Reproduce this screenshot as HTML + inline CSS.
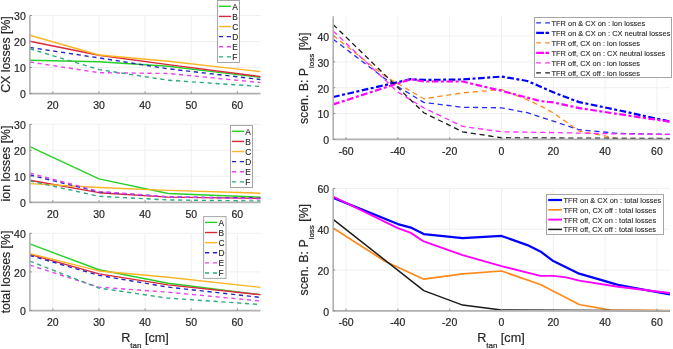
<!DOCTYPE html>
<html><head><meta charset="utf-8"><style>
html,body{margin:0;padding:0;background:#fff;width:673px;height:349px;overflow:hidden}
svg{display:block;will-change:transform;} text{stroke:#262626;stroke-width:0.2px;paint-order:stroke} .lg{stroke-width:0.12px} .lg2{stroke-width:0.1px} svg{font-family:"Liberation Sans", sans-serif}
</style></head><body>
<svg width="673" height="349" viewBox="0 0 673 349" font-family='"Liberation Sans", sans-serif'>
<rect width="673" height="349" fill="#fff"/>
<line x1="52.86" y1="15.5" x2="52.86" y2="93.5" stroke="#f0f0f0" stroke-width="1"/>
<line x1="98.98" y1="15.5" x2="98.98" y2="93.5" stroke="#f0f0f0" stroke-width="1"/>
<line x1="145.1" y1="15.5" x2="145.1" y2="93.5" stroke="#f0f0f0" stroke-width="1"/>
<line x1="191.22" y1="15.5" x2="191.22" y2="93.5" stroke="#f0f0f0" stroke-width="1"/>
<line x1="237.34" y1="15.5" x2="237.34" y2="93.5" stroke="#f0f0f0" stroke-width="1"/>
<line x1="29.8" y1="93.5" x2="260.4" y2="93.5" stroke="#f0f0f0" stroke-width="1"/>
<line x1="29.8" y1="67.5" x2="260.4" y2="67.5" stroke="#f0f0f0" stroke-width="1"/>
<line x1="29.8" y1="41.5" x2="260.4" y2="41.5" stroke="#f0f0f0" stroke-width="1"/>
<line x1="29.8" y1="15.5" x2="260.4" y2="15.5" stroke="#f0f0f0" stroke-width="1"/>
<clipPath id="cl0"><rect x="29.8" y="12.5" width="233.6" height="84"/></clipPath>
<g clip-path="url(#cl0)">
<polyline points="29.8,60.22 98.98,61.78 168.16,66.2 260.4,77.38" fill="none" stroke="#26d026" stroke-width="1.4" stroke-linejoin="round" stroke-linecap="butt"/>
<polyline points="29.8,41.24 98.98,55.28 168.16,64.64 260.4,76.6" fill="none" stroke="#d8283a" stroke-width="1.4" stroke-linejoin="round" stroke-linecap="butt"/>
<polyline points="29.8,35.26 98.98,55.02 168.16,61.26 260.4,71.66" fill="none" stroke="#fbb424" stroke-width="1.4" stroke-linejoin="round" stroke-linecap="butt"/>
<polyline points="29.8,47.48 98.98,57.88 168.16,68.8 260.4,79.46" fill="none" stroke="#2626c8" stroke-width="1.4" stroke-dasharray="4.2 3.7" stroke-linejoin="round" stroke-linecap="butt"/>
<polyline points="29.8,62.04 98.98,72.7 168.16,73.48 260.4,82.58" fill="none" stroke="#e545f0" stroke-width="1.4" stroke-dasharray="4.2 3.7" stroke-linejoin="round" stroke-linecap="butt"/>
<polyline points="29.8,48.78 98.98,69.58 168.16,80.24 260.4,86.48" fill="none" stroke="#2ea882" stroke-width="1.4" stroke-dasharray="4.2 3.7" stroke-linejoin="round" stroke-linecap="butt"/>
</g>
<path d="M29.9 15.5V93.6H260.4" fill="none" stroke="#b0b0b0" stroke-width="1.6"/>
<line x1="52.86" y1="93.5" x2="52.86" y2="91.5" stroke="#8c8c8c" stroke-width="1"/>
<line x1="98.98" y1="93.5" x2="98.98" y2="91.5" stroke="#8c8c8c" stroke-width="1"/>
<line x1="145.1" y1="93.5" x2="145.1" y2="91.5" stroke="#8c8c8c" stroke-width="1"/>
<line x1="191.22" y1="93.5" x2="191.22" y2="91.5" stroke="#8c8c8c" stroke-width="1"/>
<line x1="237.34" y1="93.5" x2="237.34" y2="91.5" stroke="#8c8c8c" stroke-width="1"/>
<line x1="29.8" y1="93.5" x2="31.8" y2="93.5" stroke="#8c8c8c" stroke-width="1"/>
<line x1="29.8" y1="67.5" x2="31.8" y2="67.5" stroke="#8c8c8c" stroke-width="1"/>
<line x1="29.8" y1="41.5" x2="31.8" y2="41.5" stroke="#8c8c8c" stroke-width="1"/>
<line x1="29.8" y1="15.5" x2="31.8" y2="15.5" stroke="#8c8c8c" stroke-width="1"/>
<text x="52.86" y="109.1" font-size="10.5" text-anchor="middle" fill="#262626">20</text>
<text x="98.98" y="109.1" font-size="10.5" text-anchor="middle" fill="#262626">30</text>
<text x="145.1" y="109.1" font-size="10.5" text-anchor="middle" fill="#262626">40</text>
<text x="191.22" y="109.1" font-size="10.5" text-anchor="middle" fill="#262626">50</text>
<text x="237.34" y="109.1" font-size="10.5" text-anchor="middle" fill="#262626">60</text>
<text x="25.8" y="98.3" font-size="10.5" text-anchor="end" fill="#262626">0</text>
<text x="25.8" y="72.3" font-size="10.5" text-anchor="end" fill="#262626">10</text>
<text x="25.8" y="46.3" font-size="10.5" text-anchor="end" fill="#262626">20</text>
<text x="25.8" y="20.3" font-size="10.5" text-anchor="end" fill="#262626">30</text>
<line x1="52.86" y1="124.3" x2="52.86" y2="202.3" stroke="#f0f0f0" stroke-width="1"/>
<line x1="98.98" y1="124.3" x2="98.98" y2="202.3" stroke="#f0f0f0" stroke-width="1"/>
<line x1="145.1" y1="124.3" x2="145.1" y2="202.3" stroke="#f0f0f0" stroke-width="1"/>
<line x1="191.22" y1="124.3" x2="191.22" y2="202.3" stroke="#f0f0f0" stroke-width="1"/>
<line x1="237.34" y1="124.3" x2="237.34" y2="202.3" stroke="#f0f0f0" stroke-width="1"/>
<line x1="29.8" y1="202.3" x2="260.4" y2="202.3" stroke="#f0f0f0" stroke-width="1"/>
<line x1="29.8" y1="176.3" x2="260.4" y2="176.3" stroke="#f0f0f0" stroke-width="1"/>
<line x1="29.8" y1="150.3" x2="260.4" y2="150.3" stroke="#f0f0f0" stroke-width="1"/>
<line x1="29.8" y1="124.3" x2="260.4" y2="124.3" stroke="#f0f0f0" stroke-width="1"/>
<clipPath id="cl1"><rect x="29.8" y="121.3" width="233.6" height="84"/></clipPath>
<g clip-path="url(#cl1)">
<polyline points="29.8,146.66 98.98,178.9 168.16,193.46 260.4,197.1" fill="none" stroke="#26d026" stroke-width="1.4" stroke-linejoin="round" stroke-linecap="butt"/>
<polyline points="29.8,180.2 98.98,192.68 168.16,197.1 260.4,198.4" fill="none" stroke="#d8283a" stroke-width="1.4" stroke-linejoin="round" stroke-linecap="butt"/>
<polyline points="29.8,183.58 98.98,187.48 168.16,190.34 260.4,193.2" fill="none" stroke="#fbb424" stroke-width="1.4" stroke-linejoin="round" stroke-linecap="butt"/>
<polyline points="29.8,175 98.98,191.9 168.16,196.84 260.4,198.14" fill="none" stroke="#2626c8" stroke-width="1.4" stroke-dasharray="4.2 3.7" stroke-linejoin="round" stroke-linecap="butt"/>
<polyline points="29.8,173.18 98.98,191.38 168.16,196.84 260.4,198.92" fill="none" stroke="#e545f0" stroke-width="1.4" stroke-dasharray="4.2 3.7" stroke-linejoin="round" stroke-linecap="butt"/>
<polyline points="29.8,180.98 98.98,196.32 168.16,199.96 260.4,201" fill="none" stroke="#2ea882" stroke-width="1.4" stroke-dasharray="4.2 3.7" stroke-linejoin="round" stroke-linecap="butt"/>
</g>
<path d="M29.9 124.3V202.4H260.4" fill="none" stroke="#b0b0b0" stroke-width="1.6"/>
<line x1="52.86" y1="202.3" x2="52.86" y2="200.3" stroke="#8c8c8c" stroke-width="1"/>
<line x1="98.98" y1="202.3" x2="98.98" y2="200.3" stroke="#8c8c8c" stroke-width="1"/>
<line x1="145.1" y1="202.3" x2="145.1" y2="200.3" stroke="#8c8c8c" stroke-width="1"/>
<line x1="191.22" y1="202.3" x2="191.22" y2="200.3" stroke="#8c8c8c" stroke-width="1"/>
<line x1="237.34" y1="202.3" x2="237.34" y2="200.3" stroke="#8c8c8c" stroke-width="1"/>
<line x1="29.8" y1="202.3" x2="31.8" y2="202.3" stroke="#8c8c8c" stroke-width="1"/>
<line x1="29.8" y1="176.3" x2="31.8" y2="176.3" stroke="#8c8c8c" stroke-width="1"/>
<line x1="29.8" y1="150.3" x2="31.8" y2="150.3" stroke="#8c8c8c" stroke-width="1"/>
<line x1="29.8" y1="124.3" x2="31.8" y2="124.3" stroke="#8c8c8c" stroke-width="1"/>
<text x="52.86" y="217.9" font-size="10.5" text-anchor="middle" fill="#262626">20</text>
<text x="98.98" y="217.9" font-size="10.5" text-anchor="middle" fill="#262626">30</text>
<text x="145.1" y="217.9" font-size="10.5" text-anchor="middle" fill="#262626">40</text>
<text x="191.22" y="217.9" font-size="10.5" text-anchor="middle" fill="#262626">50</text>
<text x="237.34" y="217.9" font-size="10.5" text-anchor="middle" fill="#262626">60</text>
<text x="25.8" y="207.1" font-size="10.5" text-anchor="end" fill="#262626">0</text>
<text x="25.8" y="181.1" font-size="10.5" text-anchor="end" fill="#262626">10</text>
<text x="25.8" y="155.1" font-size="10.5" text-anchor="end" fill="#262626">20</text>
<text x="25.8" y="129.1" font-size="10.5" text-anchor="end" fill="#262626">30</text>
<line x1="52.86" y1="233.3" x2="52.86" y2="310.5" stroke="#f0f0f0" stroke-width="1"/>
<line x1="98.98" y1="233.3" x2="98.98" y2="310.5" stroke="#f0f0f0" stroke-width="1"/>
<line x1="145.1" y1="233.3" x2="145.1" y2="310.5" stroke="#f0f0f0" stroke-width="1"/>
<line x1="191.22" y1="233.3" x2="191.22" y2="310.5" stroke="#f0f0f0" stroke-width="1"/>
<line x1="237.34" y1="233.3" x2="237.34" y2="310.5" stroke="#f0f0f0" stroke-width="1"/>
<line x1="29.8" y1="310.5" x2="260.4" y2="310.5" stroke="#f0f0f0" stroke-width="1"/>
<line x1="29.8" y1="271.9" x2="260.4" y2="271.9" stroke="#f0f0f0" stroke-width="1"/>
<line x1="29.8" y1="233.3" x2="260.4" y2="233.3" stroke="#f0f0f0" stroke-width="1"/>
<clipPath id="cl2"><rect x="29.8" y="230.3" width="233.6" height="83.2"/></clipPath>
<g clip-path="url(#cl2)">
<polyline points="29.8,243.92 98.98,269.78 168.16,283.29 260.4,294.67" fill="none" stroke="#26d026" stroke-width="1.4" stroke-linejoin="round" stroke-linecap="butt"/>
<polyline points="29.8,254.34 98.98,273.83 168.16,284.83 260.4,294.67" fill="none" stroke="#d8283a" stroke-width="1.4" stroke-linejoin="round" stroke-linecap="butt"/>
<polyline points="29.8,253.56 98.98,270.94 168.16,277.3 260.4,287.34" fill="none" stroke="#fbb424" stroke-width="1.4" stroke-linejoin="round" stroke-linecap="butt"/>
<polyline points="29.8,255.5 98.98,275.37 168.16,287.15 260.4,297.38" fill="none" stroke="#2626c8" stroke-width="1.4" stroke-dasharray="4.2 3.7" stroke-linejoin="round" stroke-linecap="butt"/>
<polyline points="29.8,265.14 98.98,287.15 168.16,292.17 260.4,301.04" fill="none" stroke="#e545f0" stroke-width="1.4" stroke-dasharray="4.2 3.7" stroke-linejoin="round" stroke-linecap="butt"/>
<polyline points="29.8,261.09 98.98,288.11 168.16,298.15 260.4,304.52" fill="none" stroke="#2ea882" stroke-width="1.4" stroke-dasharray="4.2 3.7" stroke-linejoin="round" stroke-linecap="butt"/>
</g>
<path d="M29.9 233.3V310.6H260.4" fill="none" stroke="#b0b0b0" stroke-width="1.6"/>
<line x1="52.86" y1="310.5" x2="52.86" y2="308.5" stroke="#8c8c8c" stroke-width="1"/>
<line x1="98.98" y1="310.5" x2="98.98" y2="308.5" stroke="#8c8c8c" stroke-width="1"/>
<line x1="145.1" y1="310.5" x2="145.1" y2="308.5" stroke="#8c8c8c" stroke-width="1"/>
<line x1="191.22" y1="310.5" x2="191.22" y2="308.5" stroke="#8c8c8c" stroke-width="1"/>
<line x1="237.34" y1="310.5" x2="237.34" y2="308.5" stroke="#8c8c8c" stroke-width="1"/>
<line x1="29.8" y1="310.5" x2="31.8" y2="310.5" stroke="#8c8c8c" stroke-width="1"/>
<line x1="29.8" y1="271.9" x2="31.8" y2="271.9" stroke="#8c8c8c" stroke-width="1"/>
<line x1="29.8" y1="233.3" x2="31.8" y2="233.3" stroke="#8c8c8c" stroke-width="1"/>
<text x="52.86" y="326.1" font-size="10.5" text-anchor="middle" fill="#262626">20</text>
<text x="98.98" y="326.1" font-size="10.5" text-anchor="middle" fill="#262626">30</text>
<text x="145.1" y="326.1" font-size="10.5" text-anchor="middle" fill="#262626">40</text>
<text x="191.22" y="326.1" font-size="10.5" text-anchor="middle" fill="#262626">50</text>
<text x="237.34" y="326.1" font-size="10.5" text-anchor="middle" fill="#262626">60</text>
<text x="25.8" y="315.3" font-size="10.5" text-anchor="end" fill="#262626">0</text>
<text x="25.8" y="276.7" font-size="10.5" text-anchor="end" fill="#262626">20</text>
<text x="25.8" y="238.1" font-size="10.5" text-anchor="end" fill="#262626">40</text>
<rect x="217.5" y="0.5" width="22" height="62" fill="#fff" stroke="#a6a6a6" stroke-width="1"/>
<line x1="218.9" y1="6.3" x2="231.1" y2="6.3" stroke="#26d026" stroke-width="1.4"/>
<text x="232.3" y="9.55" font-size="8.4" fill="#262626" class="lg">A</text>
<line x1="218.9" y1="16.42" x2="231.1" y2="16.42" stroke="#d8283a" stroke-width="1.4"/>
<text x="232.3" y="19.67" font-size="8.4" fill="#262626" class="lg">B</text>
<line x1="218.9" y1="26.54" x2="231.1" y2="26.54" stroke="#fbb424" stroke-width="1.4"/>
<text x="232.3" y="29.79" font-size="8.4" fill="#262626" class="lg">C</text>
<line x1="218.9" y1="36.66" x2="231.1" y2="36.66" stroke="#2626c8" stroke-width="1.4" stroke-dasharray="4.2 3.7"/>
<text x="232.3" y="39.91" font-size="8.4" fill="#262626" class="lg">D</text>
<line x1="218.9" y1="46.78" x2="231.1" y2="46.78" stroke="#e545f0" stroke-width="1.4" stroke-dasharray="4.2 3.7"/>
<text x="232.3" y="50.03" font-size="8.4" fill="#262626" class="lg">E</text>
<line x1="218.9" y1="56.9" x2="231.1" y2="56.9" stroke="#2ea882" stroke-width="1.4" stroke-dasharray="4.2 3.7"/>
<text x="232.3" y="60.15" font-size="8.4" fill="#262626" class="lg">F</text>
<rect x="230.5" y="125.5" width="22" height="62" fill="#fff" stroke="#a6a6a6" stroke-width="1"/>
<line x1="231.9" y1="131.3" x2="244.1" y2="131.3" stroke="#26d026" stroke-width="1.4"/>
<text x="245.3" y="134.55" font-size="8.4" fill="#262626" class="lg">A</text>
<line x1="231.9" y1="141.42" x2="244.1" y2="141.42" stroke="#d8283a" stroke-width="1.4"/>
<text x="245.3" y="144.67" font-size="8.4" fill="#262626" class="lg">B</text>
<line x1="231.9" y1="151.54" x2="244.1" y2="151.54" stroke="#fbb424" stroke-width="1.4"/>
<text x="245.3" y="154.79" font-size="8.4" fill="#262626" class="lg">C</text>
<line x1="231.9" y1="161.66" x2="244.1" y2="161.66" stroke="#2626c8" stroke-width="1.4" stroke-dasharray="4.2 3.7"/>
<text x="245.3" y="164.91" font-size="8.4" fill="#262626" class="lg">D</text>
<line x1="231.9" y1="171.78" x2="244.1" y2="171.78" stroke="#e545f0" stroke-width="1.4" stroke-dasharray="4.2 3.7"/>
<text x="245.3" y="175.03" font-size="8.4" fill="#262626" class="lg">E</text>
<line x1="231.9" y1="181.9" x2="244.1" y2="181.9" stroke="#2ea882" stroke-width="1.4" stroke-dasharray="4.2 3.7"/>
<text x="245.3" y="185.15" font-size="8.4" fill="#262626" class="lg">F</text>
<rect x="203.6" y="216.6" width="22.4" height="61.8" fill="#fff" stroke="#a6a6a6" stroke-width="1"/>
<line x1="205" y1="222.4" x2="217.2" y2="222.4" stroke="#26d026" stroke-width="1.4"/>
<text x="218.4" y="225.65" font-size="8.4" fill="#262626" class="lg">A</text>
<line x1="205" y1="232.52" x2="217.2" y2="232.52" stroke="#d8283a" stroke-width="1.4"/>
<text x="218.4" y="235.77" font-size="8.4" fill="#262626" class="lg">B</text>
<line x1="205" y1="242.64" x2="217.2" y2="242.64" stroke="#fbb424" stroke-width="1.4"/>
<text x="218.4" y="245.89" font-size="8.4" fill="#262626" class="lg">C</text>
<line x1="205" y1="252.76" x2="217.2" y2="252.76" stroke="#2626c8" stroke-width="1.4" stroke-dasharray="4.2 3.7"/>
<text x="218.4" y="256.01" font-size="8.4" fill="#262626" class="lg">D</text>
<line x1="205" y1="262.88" x2="217.2" y2="262.88" stroke="#e545f0" stroke-width="1.4" stroke-dasharray="4.2 3.7"/>
<text x="218.4" y="266.13" font-size="8.4" fill="#262626" class="lg">E</text>
<line x1="205" y1="273" x2="217.2" y2="273" stroke="#2ea882" stroke-width="1.4" stroke-dasharray="4.2 3.7"/>
<text x="218.4" y="276.25" font-size="8.4" fill="#262626" class="lg">F</text>
<text transform="translate(9.6,54.5) rotate(-90)" font-size="12.3" text-anchor="middle" fill="#262626">CX losses [%]</text>
<text transform="translate(9.6,163.5) rotate(-90)" font-size="12.3" text-anchor="middle" fill="#262626">ion losses [%]</text>
<text transform="translate(9.6,272) rotate(-90)" font-size="12.3" text-anchor="middle" fill="#262626">total losses [%]</text>
<text x="145" y="342.1" font-size="12.6" text-anchor="middle" fill="#262626">R<tspan font-size="8" dy="5.7">tan</tspan><tspan dy="-5.7"> [cm]</tspan></text>
<line x1="346.05" y1="16.2" x2="346.05" y2="139.3" stroke="#f0f0f0" stroke-width="1"/>
<line x1="397.87" y1="16.2" x2="397.87" y2="139.3" stroke="#f0f0f0" stroke-width="1"/>
<line x1="449.68" y1="16.2" x2="449.68" y2="139.3" stroke="#f0f0f0" stroke-width="1"/>
<line x1="501.5" y1="16.2" x2="501.5" y2="139.3" stroke="#f0f0f0" stroke-width="1"/>
<line x1="553.32" y1="16.2" x2="553.32" y2="139.3" stroke="#f0f0f0" stroke-width="1"/>
<line x1="605.13" y1="16.2" x2="605.13" y2="139.3" stroke="#f0f0f0" stroke-width="1"/>
<line x1="656.95" y1="16.2" x2="656.95" y2="139.3" stroke="#f0f0f0" stroke-width="1"/>
<line x1="333.1" y1="139.3" x2="669.9" y2="139.3" stroke="#f0f0f0" stroke-width="1"/>
<line x1="333.1" y1="113.5" x2="669.9" y2="113.5" stroke="#f0f0f0" stroke-width="1"/>
<line x1="333.1" y1="87.7" x2="669.9" y2="87.7" stroke="#f0f0f0" stroke-width="1"/>
<line x1="333.1" y1="61.9" x2="669.9" y2="61.9" stroke="#f0f0f0" stroke-width="1"/>
<line x1="333.1" y1="36.1" x2="669.9" y2="36.1" stroke="#f0f0f0" stroke-width="1"/>
<clipPath id="cr1"><rect x="333.1" y="13.2" width="339.8" height="129.1"/></clipPath>
<g clip-path="url(#cr1)">
<polyline points="333.1,39.2 384.92,78.67 423.78,102.41 462.64,107.31 501.5,107.82 527.41,112.73 553.32,121.24 579.22,129.75 618.08,133.37 669.9,134.4" fill="none" stroke="#2a2aff" stroke-width="1.3" stroke-dasharray="5.2 3.7" stroke-linejoin="round" stroke-linecap="butt"/>
<polyline points="333.1,96.99 410.82,79.19 423.78,79.96 462.64,79.44 501.5,76.61 527.41,80.99 553.32,92.34 579.22,102.15 618.08,110.15 669.9,121.5" fill="none" stroke="#0000ff" stroke-width="2.2" stroke-dasharray="6.7 2.5 3 2.5" stroke-linejoin="round" stroke-linecap="butt"/>
<polyline points="333.1,35.58 384.92,76.09 423.78,98.79 462.64,92.86 501.5,89.51 527.41,99.83 540.36,105.76 553.32,112.98 579.22,131.04 599.95,134.91 615.49,138.27 669.9,138.78" fill="none" stroke="#ff8a1a" stroke-width="1.3" stroke-dasharray="5.2 3.7" stroke-linejoin="round" stroke-linecap="butt"/>
<polyline points="333.1,104.47 410.82,79.19 423.78,81.51 462.64,81.51 501.5,90.8 540.36,101.12 553.32,102.41 579.22,108.08 618.08,114.02 669.9,121.76" fill="none" stroke="#ff00ff" stroke-width="2.2" stroke-dasharray="6.7 2.5 3 2.5" stroke-linejoin="round" stroke-linecap="butt"/>
<polyline points="333.1,30.94 397.87,92.09 423.78,107.82 462.64,126.4 501.5,131.82 540.36,132.33 618.08,133.88 669.9,134.4" fill="none" stroke="#ff2aff" stroke-width="1.3" stroke-dasharray="5.2 3.7" stroke-linejoin="round" stroke-linecap="butt"/>
<polyline points="333.1,24.49 423.78,112.73 462.64,131.82 501.5,137.75 669.9,138.53" fill="none" stroke="#1a1a1a" stroke-width="1.3" stroke-dasharray="5.2 3.7" stroke-linejoin="round" stroke-linecap="butt"/>
</g>
<path d="M333.2 16.2V139.4H669.9" fill="none" stroke="#b0b0b0" stroke-width="1.6"/>
<line x1="346.05" y1="139.3" x2="346.05" y2="137.3" stroke="#8c8c8c" stroke-width="1"/>
<line x1="397.87" y1="139.3" x2="397.87" y2="137.3" stroke="#8c8c8c" stroke-width="1"/>
<line x1="449.68" y1="139.3" x2="449.68" y2="137.3" stroke="#8c8c8c" stroke-width="1"/>
<line x1="501.5" y1="139.3" x2="501.5" y2="137.3" stroke="#8c8c8c" stroke-width="1"/>
<line x1="553.32" y1="139.3" x2="553.32" y2="137.3" stroke="#8c8c8c" stroke-width="1"/>
<line x1="605.13" y1="139.3" x2="605.13" y2="137.3" stroke="#8c8c8c" stroke-width="1"/>
<line x1="656.95" y1="139.3" x2="656.95" y2="137.3" stroke="#8c8c8c" stroke-width="1"/>
<line x1="333.1" y1="139.3" x2="335.1" y2="139.3" stroke="#8c8c8c" stroke-width="1"/>
<line x1="333.1" y1="113.5" x2="335.1" y2="113.5" stroke="#8c8c8c" stroke-width="1"/>
<line x1="333.1" y1="87.7" x2="335.1" y2="87.7" stroke="#8c8c8c" stroke-width="1"/>
<line x1="333.1" y1="61.9" x2="335.1" y2="61.9" stroke="#8c8c8c" stroke-width="1"/>
<line x1="333.1" y1="36.1" x2="335.1" y2="36.1" stroke="#8c8c8c" stroke-width="1"/>
<text x="346.05" y="154.9" font-size="10.5" text-anchor="middle" fill="#262626">-60</text>
<text x="397.87" y="154.9" font-size="10.5" text-anchor="middle" fill="#262626">-40</text>
<text x="449.68" y="154.9" font-size="10.5" text-anchor="middle" fill="#262626">-20</text>
<text x="501.5" y="154.9" font-size="10.5" text-anchor="middle" fill="#262626">0</text>
<text x="553.32" y="154.9" font-size="10.5" text-anchor="middle" fill="#262626">20</text>
<text x="605.13" y="154.9" font-size="10.5" text-anchor="middle" fill="#262626">40</text>
<text x="656.95" y="154.9" font-size="10.5" text-anchor="middle" fill="#262626">60</text>
<text x="329.1" y="144.1" font-size="10.5" text-anchor="end" fill="#262626">0</text>
<text x="329.1" y="118.3" font-size="10.5" text-anchor="end" fill="#262626">10</text>
<text x="329.1" y="92.5" font-size="10.5" text-anchor="end" fill="#262626">20</text>
<text x="329.1" y="66.7" font-size="10.5" text-anchor="end" fill="#262626">30</text>
<text x="329.1" y="40.9" font-size="10.5" text-anchor="end" fill="#262626">40</text>
<line x1="346.05" y1="188.4" x2="346.05" y2="310.8" stroke="#f0f0f0" stroke-width="1"/>
<line x1="397.87" y1="188.4" x2="397.87" y2="310.8" stroke="#f0f0f0" stroke-width="1"/>
<line x1="449.68" y1="188.4" x2="449.68" y2="310.8" stroke="#f0f0f0" stroke-width="1"/>
<line x1="501.5" y1="188.4" x2="501.5" y2="310.8" stroke="#f0f0f0" stroke-width="1"/>
<line x1="553.32" y1="188.4" x2="553.32" y2="310.8" stroke="#f0f0f0" stroke-width="1"/>
<line x1="605.13" y1="188.4" x2="605.13" y2="310.8" stroke="#f0f0f0" stroke-width="1"/>
<line x1="656.95" y1="188.4" x2="656.95" y2="310.8" stroke="#f0f0f0" stroke-width="1"/>
<line x1="333.1" y1="310.8" x2="669.9" y2="310.8" stroke="#f0f0f0" stroke-width="1"/>
<line x1="333.1" y1="270" x2="669.9" y2="270" stroke="#f0f0f0" stroke-width="1"/>
<line x1="333.1" y1="229.2" x2="669.9" y2="229.2" stroke="#f0f0f0" stroke-width="1"/>
<line x1="333.1" y1="188.4" x2="669.9" y2="188.4" stroke="#f0f0f0" stroke-width="1"/>
<clipPath id="cr2"><rect x="333.1" y="185.4" width="339.8" height="128.4"/></clipPath>
<g clip-path="url(#cr2)">
<polyline points="333.1,197.78 397.87,224.1 410.82,227.57 423.78,234.1 462.64,238.18 501.5,235.93 527.41,245.11 540.36,251.44 553.32,261.02 579.22,273.67 618.08,284.89 669.9,294.48" fill="none" stroke="#0000ff" stroke-width="2.2" stroke-linejoin="round" stroke-linecap="butt"/>
<polyline points="333.1,227.98 384.92,261.23 423.78,279.18 462.64,273.88 501.5,271.02 540.36,284.48 579.22,304.48 610.31,310.19 669.9,310.6" fill="none" stroke="#ff8a1a" stroke-width="1.7" stroke-linejoin="round" stroke-linecap="butt"/>
<polyline points="333.1,196.56 397.87,228.18 410.82,232.87 423.78,241.44 462.64,255.11 501.5,266.12 540.36,275.92 553.32,275.92 566.27,277.34 579.22,280.61 618.08,286.73 669.9,293.05" fill="none" stroke="#ff00ff" stroke-width="1.9" stroke-linejoin="round" stroke-linecap="butt"/>
<polyline points="333.1,219.41 423.78,290.6 462.64,305.09 501.5,309.98 669.9,310.8" fill="none" stroke="#1a1a1a" stroke-width="1.5" stroke-linejoin="round" stroke-linecap="butt"/>
</g>
<path d="M333.2 188.4V310.9H669.9" fill="none" stroke="#b0b0b0" stroke-width="1.6"/>
<line x1="346.05" y1="310.8" x2="346.05" y2="308.8" stroke="#8c8c8c" stroke-width="1"/>
<line x1="397.87" y1="310.8" x2="397.87" y2="308.8" stroke="#8c8c8c" stroke-width="1"/>
<line x1="449.68" y1="310.8" x2="449.68" y2="308.8" stroke="#8c8c8c" stroke-width="1"/>
<line x1="501.5" y1="310.8" x2="501.5" y2="308.8" stroke="#8c8c8c" stroke-width="1"/>
<line x1="553.32" y1="310.8" x2="553.32" y2="308.8" stroke="#8c8c8c" stroke-width="1"/>
<line x1="605.13" y1="310.8" x2="605.13" y2="308.8" stroke="#8c8c8c" stroke-width="1"/>
<line x1="656.95" y1="310.8" x2="656.95" y2="308.8" stroke="#8c8c8c" stroke-width="1"/>
<line x1="333.1" y1="310.8" x2="335.1" y2="310.8" stroke="#8c8c8c" stroke-width="1"/>
<line x1="333.1" y1="270" x2="335.1" y2="270" stroke="#8c8c8c" stroke-width="1"/>
<line x1="333.1" y1="229.2" x2="335.1" y2="229.2" stroke="#8c8c8c" stroke-width="1"/>
<line x1="333.1" y1="188.4" x2="335.1" y2="188.4" stroke="#8c8c8c" stroke-width="1"/>
<text x="346.05" y="326.4" font-size="10.5" text-anchor="middle" fill="#262626">-60</text>
<text x="397.87" y="326.4" font-size="10.5" text-anchor="middle" fill="#262626">-40</text>
<text x="449.68" y="326.4" font-size="10.5" text-anchor="middle" fill="#262626">-20</text>
<text x="501.5" y="326.4" font-size="10.5" text-anchor="middle" fill="#262626">0</text>
<text x="553.32" y="326.4" font-size="10.5" text-anchor="middle" fill="#262626">20</text>
<text x="605.13" y="326.4" font-size="10.5" text-anchor="middle" fill="#262626">40</text>
<text x="656.95" y="326.4" font-size="10.5" text-anchor="middle" fill="#262626">60</text>
<text x="329.1" y="315.6" font-size="10.5" text-anchor="end" fill="#262626">0</text>
<text x="329.1" y="274.8" font-size="10.5" text-anchor="end" fill="#262626">20</text>
<text x="329.1" y="234" font-size="10.5" text-anchor="end" fill="#262626">40</text>
<text x="329.1" y="193.2" font-size="10.5" text-anchor="end" fill="#262626">60</text>
<rect x="534.5" y="17.5" width="137" height="60" fill="#fff" stroke="#a6a6a6" stroke-width="1"/>
<line x1="536.2" y1="22.9" x2="550" y2="22.9" stroke="#2a2aff" stroke-width="1.3" stroke-dasharray="4.7 4.3"/>
<text transform="translate(551.5,25.85) scale(0.935,1)" font-size="7.95" fill="#262626" class="lg2">TFR on &amp; CX on : ion losses</text>
<line x1="536.2" y1="32.9" x2="550" y2="32.9" stroke="#0000ff" stroke-width="2.2" stroke-dasharray="7.8 1.5 3.6 1.5"/>
<text transform="translate(551.5,35.85) scale(0.935,1)" font-size="7.95" fill="#262626" class="lg2">TFR on &amp; CX on : CX neutral losses</text>
<line x1="536.2" y1="42.9" x2="550" y2="42.9" stroke="#ff8a1a" stroke-width="1.3" stroke-dasharray="4.7 4.3"/>
<text transform="translate(551.5,45.85) scale(0.935,1)" font-size="7.95" fill="#262626" class="lg2">TFR off, CX on : ion losses</text>
<line x1="536.2" y1="52.9" x2="550" y2="52.9" stroke="#ff00ff" stroke-width="2.2" stroke-dasharray="7.8 1.5 3.6 1.5"/>
<text transform="translate(551.5,55.85) scale(0.935,1)" font-size="7.95" fill="#262626" class="lg2">TFR off, CX on : CX neutral losses</text>
<line x1="536.2" y1="62.9" x2="550" y2="62.9" stroke="#ff2aff" stroke-width="1.3" stroke-dasharray="4.7 4.3"/>
<text transform="translate(551.5,65.85) scale(0.935,1)" font-size="7.95" fill="#262626" class="lg2">TFR off, CX on : ion losses</text>
<line x1="536.2" y1="72.9" x2="550" y2="72.9" stroke="#1a1a1a" stroke-width="1.3" stroke-dasharray="4.7 4.3"/>
<text transform="translate(551.5,75.85) scale(0.935,1)" font-size="7.95" fill="#262626" class="lg2">TFR off, CX off : ion losses</text>
<rect x="546.5" y="194.5" width="117" height="40" fill="#fff" stroke="#a6a6a6" stroke-width="1"/>
<line x1="548.2" y1="200" x2="562" y2="200" stroke="#0000ff" stroke-width="2.2"/>
<text transform="translate(563.5,202.95) scale(0.935,1)" font-size="7.95" fill="#262626" class="lg2">TFR on &amp; CX on : total losses</text>
<line x1="548.2" y1="209.8" x2="562" y2="209.8" stroke="#ff8a1a" stroke-width="1.7"/>
<text transform="translate(563.5,212.75) scale(0.935,1)" font-size="7.95" fill="#262626" class="lg2">TFR on, CX off : total losses</text>
<line x1="548.2" y1="219.6" x2="562" y2="219.6" stroke="#ff00ff" stroke-width="1.9"/>
<text transform="translate(563.5,222.55) scale(0.935,1)" font-size="7.95" fill="#262626" class="lg2">TFR off, CX on : total losses</text>
<line x1="548.2" y1="229.4" x2="562" y2="229.4" stroke="#1a1a1a" stroke-width="1.5"/>
<text transform="translate(563.5,232.35) scale(0.935,1)" font-size="7.95" fill="#262626" class="lg2">TFR off, CX off : total losses</text>
<text transform="translate(307.8,78.3) rotate(-90)" font-size="12.3" text-anchor="middle" fill="#262626">scen. B: P<tspan font-size="8" dy="5.7">loss</tspan><tspan dy="-5.7"> [%]</tspan></text>
<text transform="translate(307.8,249.7) rotate(-90)" font-size="12.3" text-anchor="middle" fill="#262626">scen. B: P<tspan font-size="8" dy="5.7">loss</tspan><tspan dy="-5.7"> [%]</tspan></text>
<text x="500.9" y="342.1" font-size="12.6" text-anchor="middle" fill="#262626">R<tspan font-size="8" dy="5.7">tan</tspan><tspan dy="-5.7"> [cm]</tspan></text>
</svg>
</body></html>
